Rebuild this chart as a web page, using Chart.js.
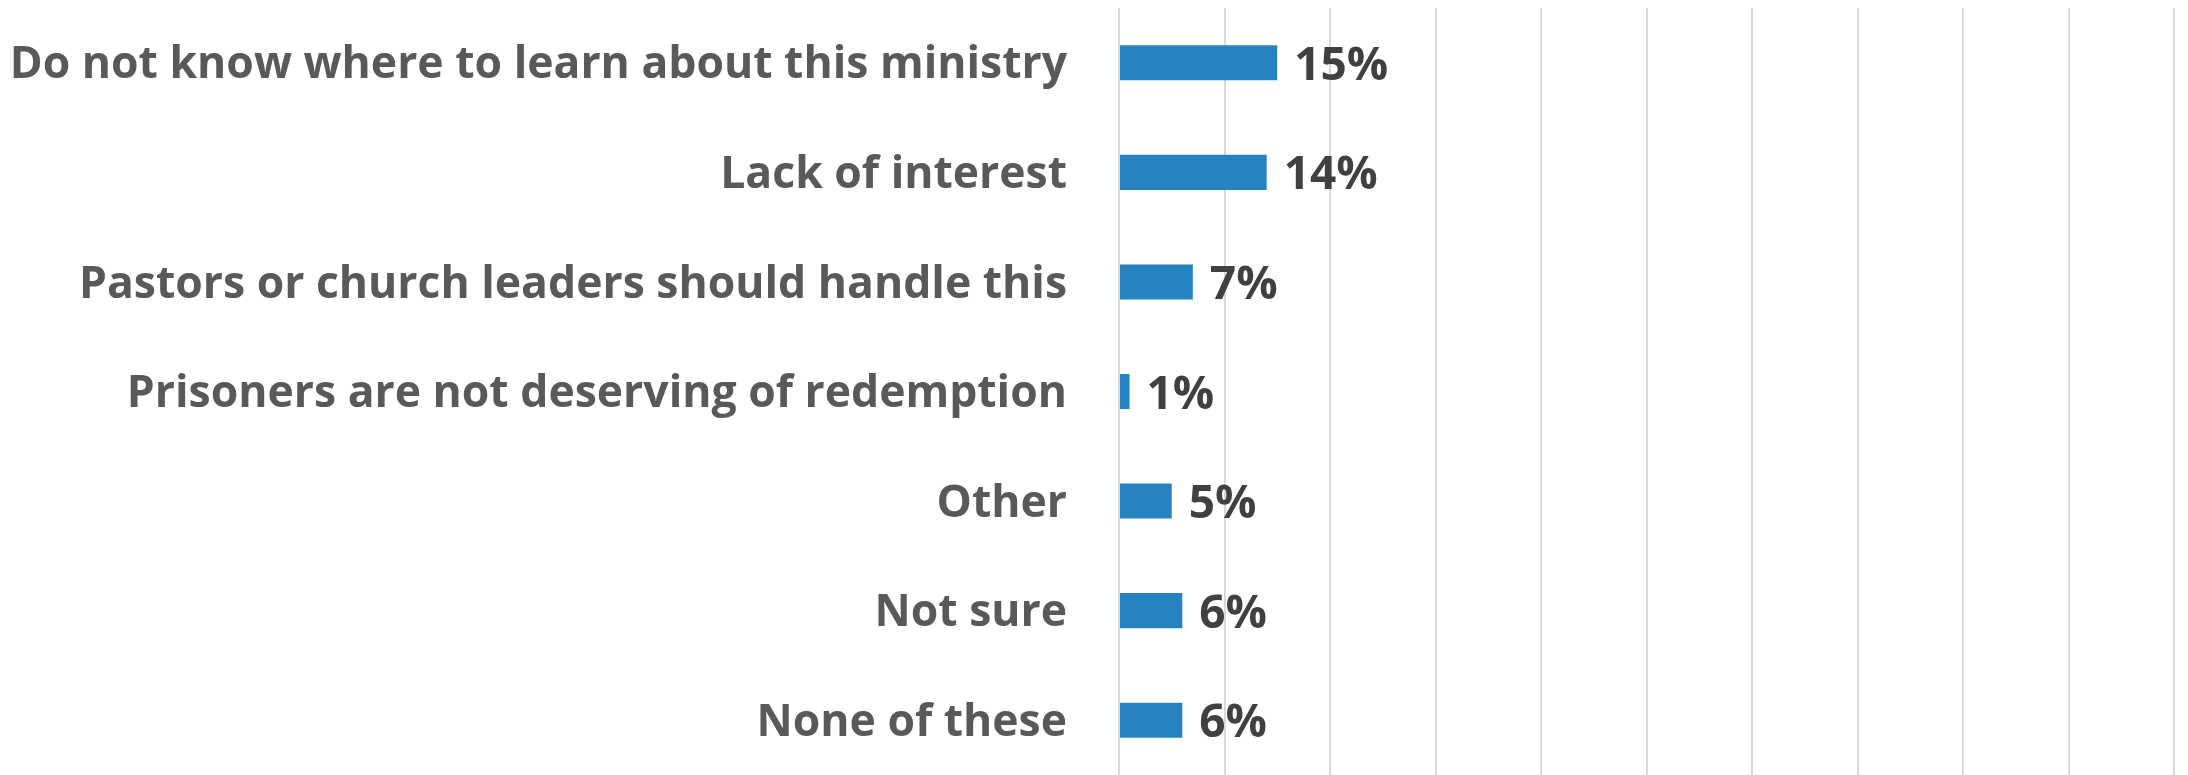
<!DOCTYPE html>
<html>
<head>
<meta charset="utf-8">
<script src="https://cdn.jsdelivr.net/npm/chart.js@4/dist/chart.umd.min.js"></script>
<style>
  html, body { margin: 0; padding: 0; background: #ffffff; }
  #wrap { width: 2188px; height: 775px; }
</style>
</head>
<body>
<div id="wrap"><canvas id="c" width="2188" height="775"></canvas></div>
<script>
// Reasons given, with share of respondents (%)
const categories = [
  "Do not know where to learn about this ministry",
  "Lack of interest",
  "Pastors or church leaders should handle this",
  "Prisoners are not deserving of redemption",
  "Other",
  "Not sure",
  "None of these"
];
const values = [15, 14, 7, 1, 5, 6, 6];
const axisMax = 100;
const axisStep = 10;

const BAR_COLOR = "#2584C0";
const LABEL_COLOR = "#595959";
const VALUE_COLOR = "#404040";
const GRID_COLOR = "#d9d9d9";
const LABEL_FONT = "'Open Sans', Lato, sans-serif";
const VALUE_FONT = "'Open Sans', Lato, sans-serif";

// Writes "NN%" just past the end of each bar
const valueLabels = {
  id: "valueLabels",
  afterDatasetsDraw(chart) {
    const ctx = chart.ctx;
    const meta = chart.getDatasetMeta(0);
    ctx.save();
    ctx.font = "bold 46px " + VALUE_FONT;
    ctx.fillStyle = VALUE_COLOR;
    ctx.textAlign = "left";
    ctx.textBaseline = "alphabetic";
    meta.data.forEach((bar, i) => {
      const v = chart.data.datasets[0].data[i];
      ctx.fillText(v + "%", bar.x + 17, bar.y + 17);
    });
    ctx.restore();
  }
};

new Chart(document.getElementById("c"), {
  type: "bar",
  data: {
    labels: categories,
    datasets: [{
      data: values,
      backgroundColor: BAR_COLOR,
      borderWidth: 0,
      categoryPercentage: 1.0,
      barPercentage: 0.32
    }]
  },
  options: {
    indexAxis: "y",
    responsive: false,
    animation: false,
    devicePixelRatio: 1,
    layout: { padding: { top: 8, right: 14, bottom: -4, left: 0 } },
    plugins: {
      legend: { display: false },
      tooltip: { enabled: false }
    },
    scales: {
      x: {
        min: 0,
        max: axisMax,
        ticks: { display: false, stepSize: axisStep },
        grid: { color: GRID_COLOR, lineWidth: 2, drawTicks: false },
        border: { display: false }
      },
      y: {
        afterFit(scale) {
          scale.width = 1119;
          scale.paddingTop = 0;
          scale.paddingBottom = 0;
        },
        ticks: {
          color: LABEL_COLOR,
          padding: 52,
          labelOffset: 3,
          font: { family: LABEL_FONT, size: 44.5, weight: "bold" }
        },
        grid: { display: false, drawTicks: false },
        border: { display: false }
      }
    }
  },
  plugins: [valueLabels]
});
</script>
</body>
</html>
